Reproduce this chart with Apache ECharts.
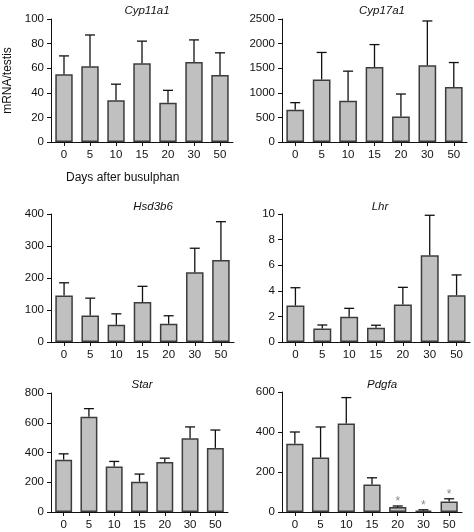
<!DOCTYPE html>
<html>
<head>
<meta charset="utf-8">
<script src="https://cdn.jsdelivr.net/npm/echarts@6/dist/echarts.min.js"></script>
<style>
html,body{margin:0;padding:0;background:#fff;}
#chart{width:474px;height:532px;}
</style>
</head>
<body>
<div id="chart"></div>
<script>
const categories = ['0', '5', '10', '15', '20', '30', '50'];

const cyp11a1Mean  = [55, 61.5, 34, 64, 32, 65, 54.5];
const cyp11a1Upper = [70, 87, 47, 82, 42, 83, 72.5];

const cyp17a1Mean  = [655, 1270, 840, 1525, 520, 1560, 1120];
const cyp17a1Upper = [800, 1820, 1440, 1980, 975, 2460, 1615];

const hsd3b6Mean  = [145, 83, 54, 125, 57, 218, 256];
const hsd3b6Upper = [185, 137, 88, 174, 82, 293, 376];

const lhrMean  = [2.85, 1.05, 1.98, 1.12, 2.93, 6.78, 3.66];
const lhrUpper = [4.24, 1.33, 2.63, 1.31, 4.27, 9.9, 5.24];

const starMean  = [352, 640, 306, 204, 336, 496, 431];
const starUpper = [391, 695, 340, 255, 362, 572, 551];

const pdgfaMean  = [341, 272, 443, 138, 25, 7, 53];
const pdgfaUpper = [400, 425, 572, 171, 30, 11, 66];
const pdgfaStars = ['', '', '', '', '*', '*', '*'];
const noStars    = ['', '', '', '', '', '', ''];

const panels = [
  {title: 'Cyp11a1', mean: cyp11a1Mean, upper: cyp11a1Upper, stars: noStars, max: 100, interval: 20},
  {title: 'Cyp17a1', mean: cyp17a1Mean, upper: cyp17a1Upper, stars: noStars, max: 2500, interval: 500},
  {title: 'Hsd3b6', mean: hsd3b6Mean, upper: hsd3b6Upper, stars: noStars, max: 400, interval: 100},
  {title: 'Lhr', mean: lhrMean, upper: lhrUpper, stars: noStars, max: 10, interval: 2},
  {title: 'Star', mean: starMean, upper: starUpper, stars: noStars, max: 800, interval: 200},
  {title: 'Pdgfa', mean: pdgfaMean, upper: pdgfaUpper, stars: pdgfaStars, max: 600, interval: 200}
];

const layout = [
  {left: 51, width: 182, top: 19, height: 123, tx: 142, ty: 0},
  {left: 282, width: 185, top: 19, height: 123, tx: 377, ty: 0},
  {left: 51, width: 183, top: 214, height: 128, tx: 148, ty: 196},
  {left: 282, width: 188, top: 214, height: 128, tx: 375, ty: 196},
  {left: 51, width: 177, top: 393, height: 119, tx: 137, ty: 374},
  {left: 282, width: 180, top: 392, height: 120, tx: 377, ty: 374}
];

const FONT = '"Liberation Sans", Arial, Helvetica, sans-serif';
const AX = '#111';

const option = {
  backgroundColor: '#fff',
  animation: false,
  title: [],
  grid: [],
  xAxis: [],
  yAxis: [],
  series: [],
  graphic: [{
    type: 'text', left: 66, top: 172,
    style: {text: 'Days after busulphan', fontSize: 12, fontFamily: FONT, fill: '#111'}
  }]
};

panels.forEach((p, i) => {
  const L = layout[i];
  option.title.push({
    text: p.title, left: L.tx, top: L.ty, textAlign: 'center',
    textStyle: {fontSize: 11.5, fontStyle: 'italic', fontWeight: 'normal', fontFamily: FONT, color: '#111'}
  });
  option.grid.push({left: L.left, width: L.width, top: L.top, height: L.height, containLabel: false});
  option.xAxis.push({
    type: 'category', gridIndex: i, data: categories,
    axisLine: {lineStyle: {color: AX, width: 1}},
    axisTick: {show: true, alignWithLabel: true, length: 4, lineStyle: {color: AX}},
    axisLabel: {fontSize: 11.5, fontFamily: FONT, color: '#111', margin: 7}
  });
  option.yAxis.push({
    type: 'value', gridIndex: i, min: 0, max: p.max, interval: p.interval,
    name: i === 0 ? 'mRNA/testis' : '', nameLocation: 'middle', nameGap: 37,
    nameTextStyle: {fontSize: 12, fontFamily: FONT, color: '#111'},
    splitLine: {show: false},
    axisLine: {show: true, lineStyle: {color: AX, width: 1}},
    axisTick: {show: true, length: 4, lineStyle: {color: AX}},
    axisLabel: {fontSize: 11.5, fontFamily: FONT, color: '#111', margin: 7, formatter: v => String(v)}
  });
  option.series.push({
    type: 'bar', xAxisIndex: i, yAxisIndex: i, data: p.mean, barWidth: '67%',
    itemStyle: {color: '#c0c0c0', borderColor: '#3c3c3c', borderWidth: 1.5},
    z: 2
  });
  option.series.push({
    type: 'custom', xAxisIndex: i, yAxisIndex: i,
    data: p.mean.map((m, k) => [k, m, p.upper[k]]),
    z: 3,
    renderItem: function (params, api) {
      const idx = api.value(0);
      const top = api.coord([idx, api.value(1)]);
      const cap = api.coord([idx, api.value(2)]);
      const star = p.stars[params.dataIndex];
      const children = [
        {type: 'line', shape: {x1: top[0], y1: top[1], x2: cap[0], y2: cap[1]}, style: {stroke: '#111', lineWidth: 1.3}},
        {type: 'line', shape: {x1: cap[0] - 5, y1: cap[1], x2: cap[0] + 5, y2: cap[1]}, style: {stroke: '#111', lineWidth: 1.3}}
      ];
      if (star) {
        children.push({type: 'text', style: {text: star, x: cap[0], y: cap[1] + 2, textAlign: 'center', textVerticalAlign: 'bottom', fontSize: 12, fontFamily: FONT, fill: '#888'}});
      }
      return {type: 'group', children: children};
    }
  });
});

const chart = echarts.init(document.getElementById('chart'), null, {renderer: 'canvas'});
chart.setOption(option);
</script>
</body>
</html>
